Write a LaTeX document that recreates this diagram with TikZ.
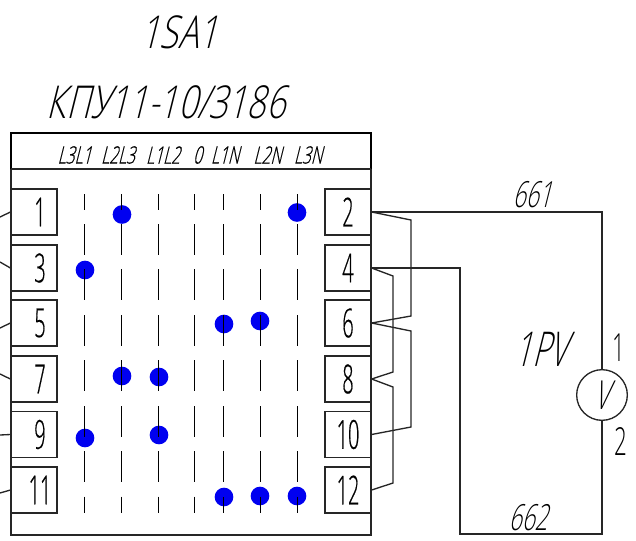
\documentclass[tikz,border=0pt]{standalone}
\usepackage{fontspec}
\setmainfont{Open Sans Light}
\newfontfamily\gostup[FakeStretch=0.5,FakeBold=0.4]{Open Sans Light}
\newfontfamily\gostlab[FakeStretch=0.58]{Open Sans Light}
\newfontfamily\gostit[FakeStretch=0.74,FakeSlant=0.25]{Open Sans Light}
\newfontfamily\gostnar[FakeStretch=0.63,FakeSlant=0.25]{Open Sans Light}
\newfontfamily\gosthdr[FakeStretch=0.65,FakeSlant=0.25,FakeBold=0.5]{Open Sans Light}
\definecolor{dotblue}{RGB}{0,0,240}
\tikzset{
  wire/.style={draw=black!85,line width=1pt,line join=miter},
  termbox/.style={draw=black!85,line width=0.9pt,minimum width=34.5pt,minimum height=34.5pt,inner sep=0pt},
  termnum/.style={font=\gostup\fontsize{30}{30}\selectfont,inner sep=0pt},
  dashcol/.style={draw=black,line width=1.15pt},
  contact/.style={circle,fill=dotblue,draw=none,minimum size=14pt,inner sep=0pt},
  hdr/.style={font=\gosthdr\fontsize{18}{18}\selectfont,inner sep=0pt},
  big/.style={font=\gostit\fontsize{34}{34}\selectfont,inner sep=0pt},
  mid/.style={font=\gostnar\fontsize{27}{27}\selectfont,inner sep=0pt},
  num/.style={font=\gostlab\fontsize{29}{29}\selectfont,inner sep=0pt},
}
\begin{document}
\begin{tikzpicture}[x=0.75pt,y=-0.75pt]
\useasboundingbox (0,0) rectangle (636,540);
% housing
\draw[line width=1.5pt,draw=black] (11,169) -- (11,133) -- (371,133) -- (371,169);
\draw[wire,line width=1.1pt] (11,169) -- (371,169);
\draw[wire,line width=1.1pt] (11,169) -- (11,535) -- (371,535) -- (371,169);
% titles
\node[big] (title1) at (179,32) {1SA1};
\node[big] (title2) at (166,102) {КПУ11-10/3186};
% header
\node[hdr] (h1) at (74.5,155) {L3L1};
\node[hdr] (h2) at (118,155) {L2L3};
\node[hdr] (h3) at (163,155) {L1L2};
\node[hdr] (h4) at (197.5,155) {0};
\node[hdr] (h5) at (225,155) {L1N};
\node[hdr] (h6) at (267.5,155) {L2N};
\node[hdr] (h7) at (308,155) {L3N};
% contacts
\foreach \n/\x/\y in {a/122/214.5,b/297/212.5,c/85/270,d/224/324,e/260/321,f/122/376,g/159/377,h/85/438,i/159/435,j/224/497,k/260/496,l/297/496}
  \node[contact] (c\n) at (\x,\y) {};
% dashes
\foreach \x in {84.5,121.5,158.5,194.5,223.5,260.5,297.5}
  \foreach \a/\b in {194/209.5,224/255,269/300,315/346,360/391,406/437,451/482,496.5/513}
    \draw[dashcol] (\x,\a) -- (\x,\b);
% terminals
\foreach \n/\y in {1/212,3/268,5/323,7/379,9/434.5,11/490}
  \node[termbox,fill=white,label={[termnum,xshift=4.5pt]center:\n}] (t\n) at (34,\y) {};
\foreach \n/\y in {2/212,4/268,6/323,8/379,10/434.5,12/490}
  \node[termbox,fill=white,label={[termnum]center:\n}] (t\n) at (348,\y) {};
% left stubs
\coordinate (s1) at (0,217); \coordinate (s3) at (0,262); \coordinate (s5) at (0,328);
\coordinate (s7) at (0,374); \coordinate (s9) at (0,435); \coordinate (s11) at (0,493);
\draw[wire] (s1) -- (t1.west);
\draw[wire] (s3) -- (t3.west);
\draw[wire] (s5) -- (t5.west);
\draw[wire] (s7) -- (t7.west);
\draw[wire] (s9) -- (t9.west);
\draw[wire] (s11) -- (t11.west);
% voltmeter
\node[circle,draw=black!85,line width=1pt,minimum size=38pt,inner sep=0pt,font=\gostnar\fontsize{30}{30}\selectfont] (vm) at (602,395) {V};
\coordinate (cb) at (460,534);
\coordinate (cd) at (602,534);
\draw[wire] (t2.east) -| (vm.north);
\draw[wire] (vm.south) -- (cd) -- (cb) -- (460,268) -- (t4.east);
% jumpers
\draw[wire] (t2.east) -- (411,220) -- (411,316) -- (t6.east);
\draw[wire] (t6.east) -- (411,331) -- (411,427) -- (t10.east);
\draw[wire] (t4.east) -- (393,276) -- (393,372) -- (t8.east);
\draw[wire] (t8.east) -- (393,387) -- (393,483) -- (t12.east);
% labels
\node[mid] (w1) at (532,195) {661};
\node[mid] (w2) at (528,518) {662};
\node[inner sep=0pt,font=\gostnar\fontsize{36}{36}\selectfont] (pv) at (541,349) {1PV};
\node[num] (p1) at (618.5,348) {1};
\node[num] (p2) at (621,441) {2};
\end{tikzpicture}
\end{document}
